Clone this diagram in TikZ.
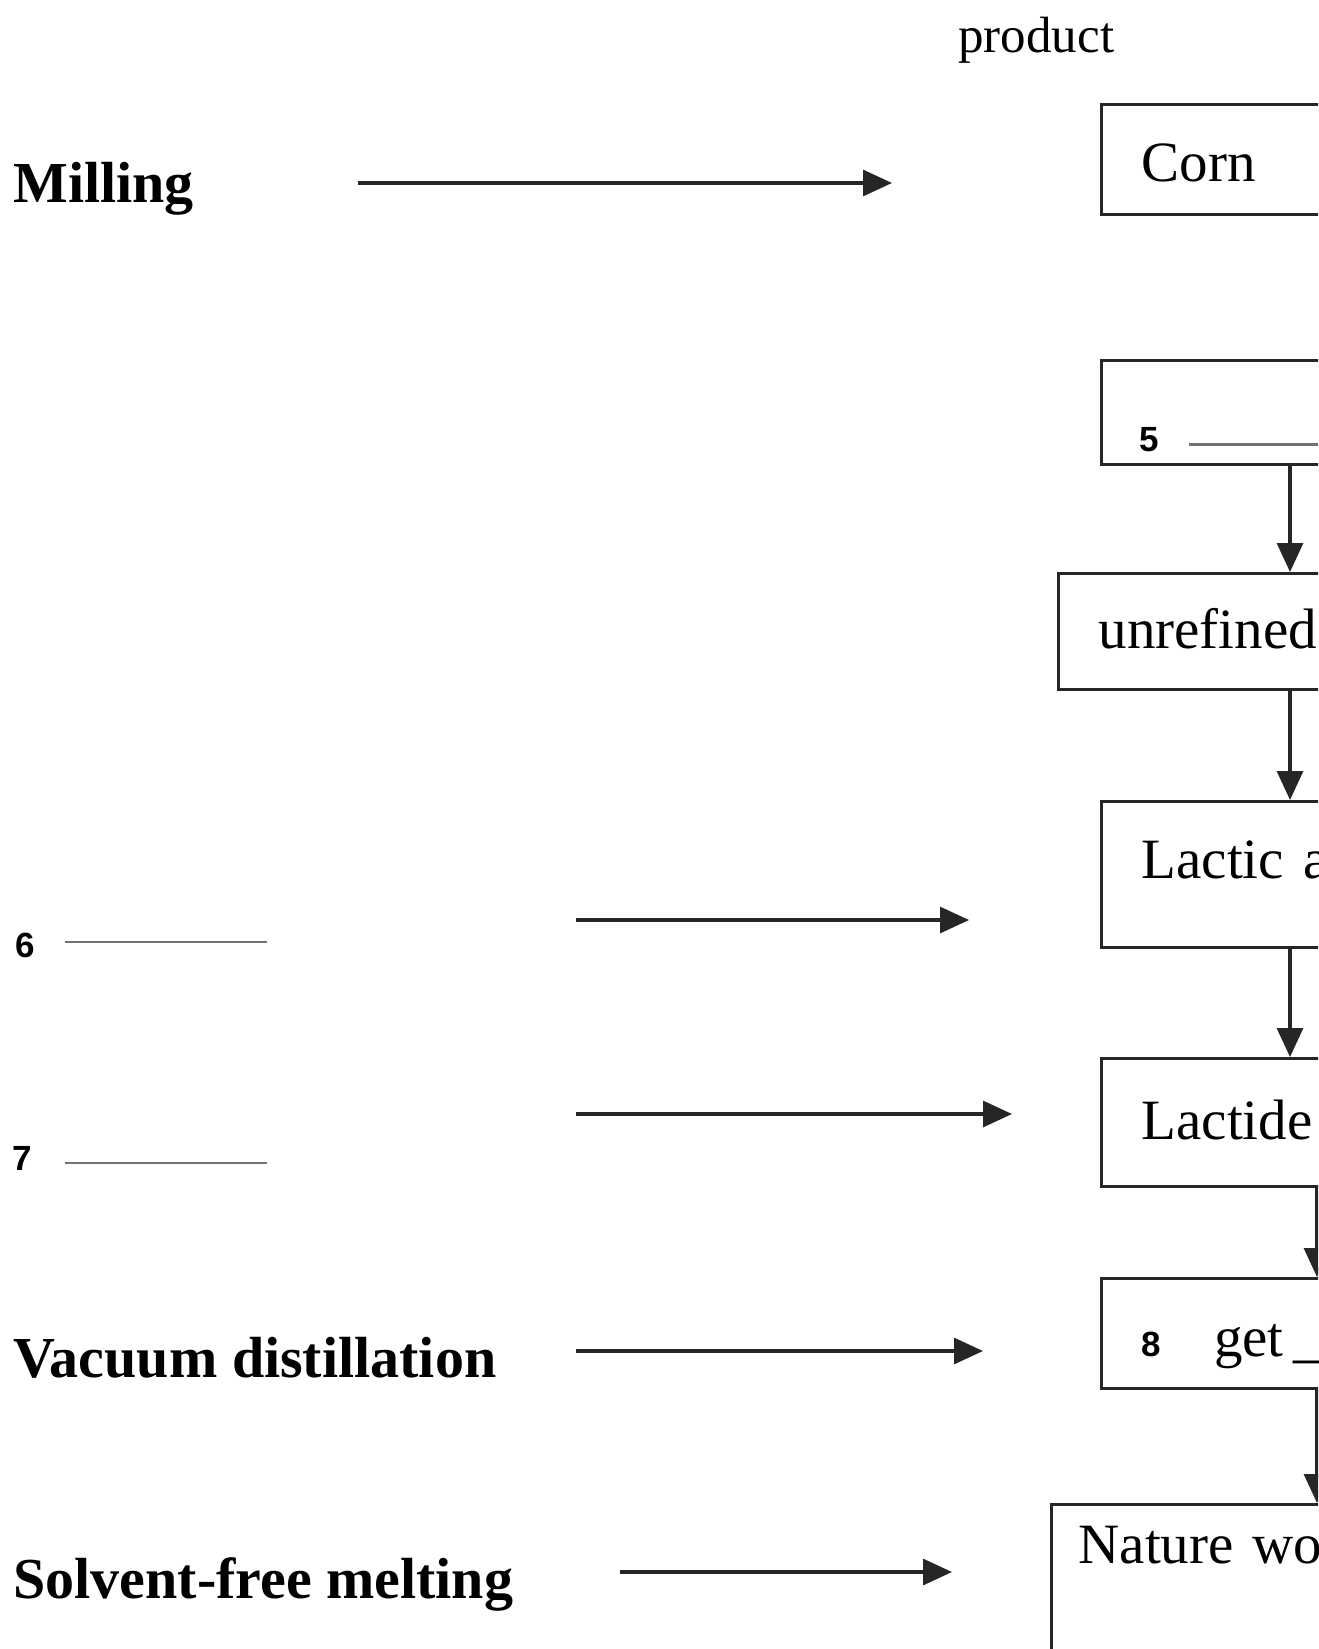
\documentclass[tikz,border=0pt]{standalone}
\usepackage{fontspec}
\setmainfont{Liberation Serif}
\newfontfamily\numfont{Liberation Sans}
\usepackage{xcolor}
\usetikzlibrary{arrows.meta}

\newcommand{\stepno}[1]{{\numfont\bfseries\fontsize{17.5pt}{20pt}\selectfont #1}}
\newcommand{\gapline}[2]{\textcolor{black!55}{\rule[#1]{#2}{1.1pt}}}

\begin{document}
\begin{tikzpicture}[x=0.5pt, y=-0.5pt,
  flow/.style={draw=black!85, line width=1.6pt, -{Triangle[length=14.5pt, width=13pt]}},
  stagebox/.style={draw=black!85, line width=1.6pt, anchor=north west, inner ysep=0pt, inner xsep=20pt,
    text width=200pt, align=left, font=\fontsize{28.5pt}{34pt}\selectfont},
  procname/.style={anchor=base west, inner sep=0pt, font=\bfseries\fontsize{29pt}{34pt}\selectfont}]
  \useasboundingbox (0,0) rectangle (1318,1649);
  \clip (0,0) rectangle (1318,1649);

  % column heading
  \node[anchor=base west, inner sep=0pt, font=\fontsize{25.5pt}{30pt}\selectfont] (head) at (958,53) {product};

  % products, cut off at the right edge
  \node[stagebox, text height=38.5pt, text depth=16.5pt] (corn) at (1100,103) {Corn};
  \node[stagebox, inner xsep=19pt, text height=45.5pt, text depth=6.5pt] (blank5) at (1100,359) {\stepno{5}\hspace{15pt}\gapline{3pt}{100pt}};
  \node[stagebox, text height=37.5pt, text depth=20.5pt] (unref) at (1057,572) {unrefined};
  \node[stagebox, text height=38.5pt, text depth=34.5pt] (lactic) at (1100,800) {Lactic a};
  \node[stagebox, text height=40.5pt, text depth=23.5pt] (lactide) at (1100,1057) {Lactide};
  \node[stagebox, text height=39pt, text depth=16pt] (get) at (1100,1277) {\stepno{8}\hspace{26.5pt}get\hspace{5pt}\_\_};
  \node[stagebox, inner xsep=13.5pt, text height=29.5pt, text depth=70pt] (nature) at (1050,1503) {Nature wo};

  \coordinate (colA) at (1290,0);
  \coordinate (colB) at (1317,0);
  \draw[flow] (blank5.south -| colA) -- (unref.north -| colA);
  \draw[flow] (unref.south -| colA) -- (lactic.north -| colA);
  \draw[flow] (lactic.south -| colA) -- (lactide.north -| colA);
  \draw[flow] (lactide.south -| colB) -- (get.north -| colB);
  \draw[flow] (get.south -| colB) -- (nature.north -| colB);

  % processes
  \node[procname] (mill) at (13,202) {Milling};
  \node[procname] (blank6) at (15,957) {\stepno{6}\hspace{15pt}\gapline{7pt}{101pt}};
  \node[procname] (blank7) at (12,1170) {\stepno{7}\hspace{16.5pt}\gapline{3pt}{101pt}};
  \node[procname] (vacuum) at (13,1377) {Vacuum distillation};
  \node[procname] (melt) at (13,1598) {Solvent-free melting};

  \foreach \nm/\xa/\xb/\yy in {mill/358/892/183, six/576/969/920, seven/576/1012/1114,
      vac/576/983/1351, melt/620/952/1572}{
    \coordinate (\nm-s) at (\xa,\yy);
    \coordinate (\nm-e) at (\xb,\yy);
    \draw[flow] (\nm-s) -- (\nm-e);
  }
\end{tikzpicture}
\end{document}
